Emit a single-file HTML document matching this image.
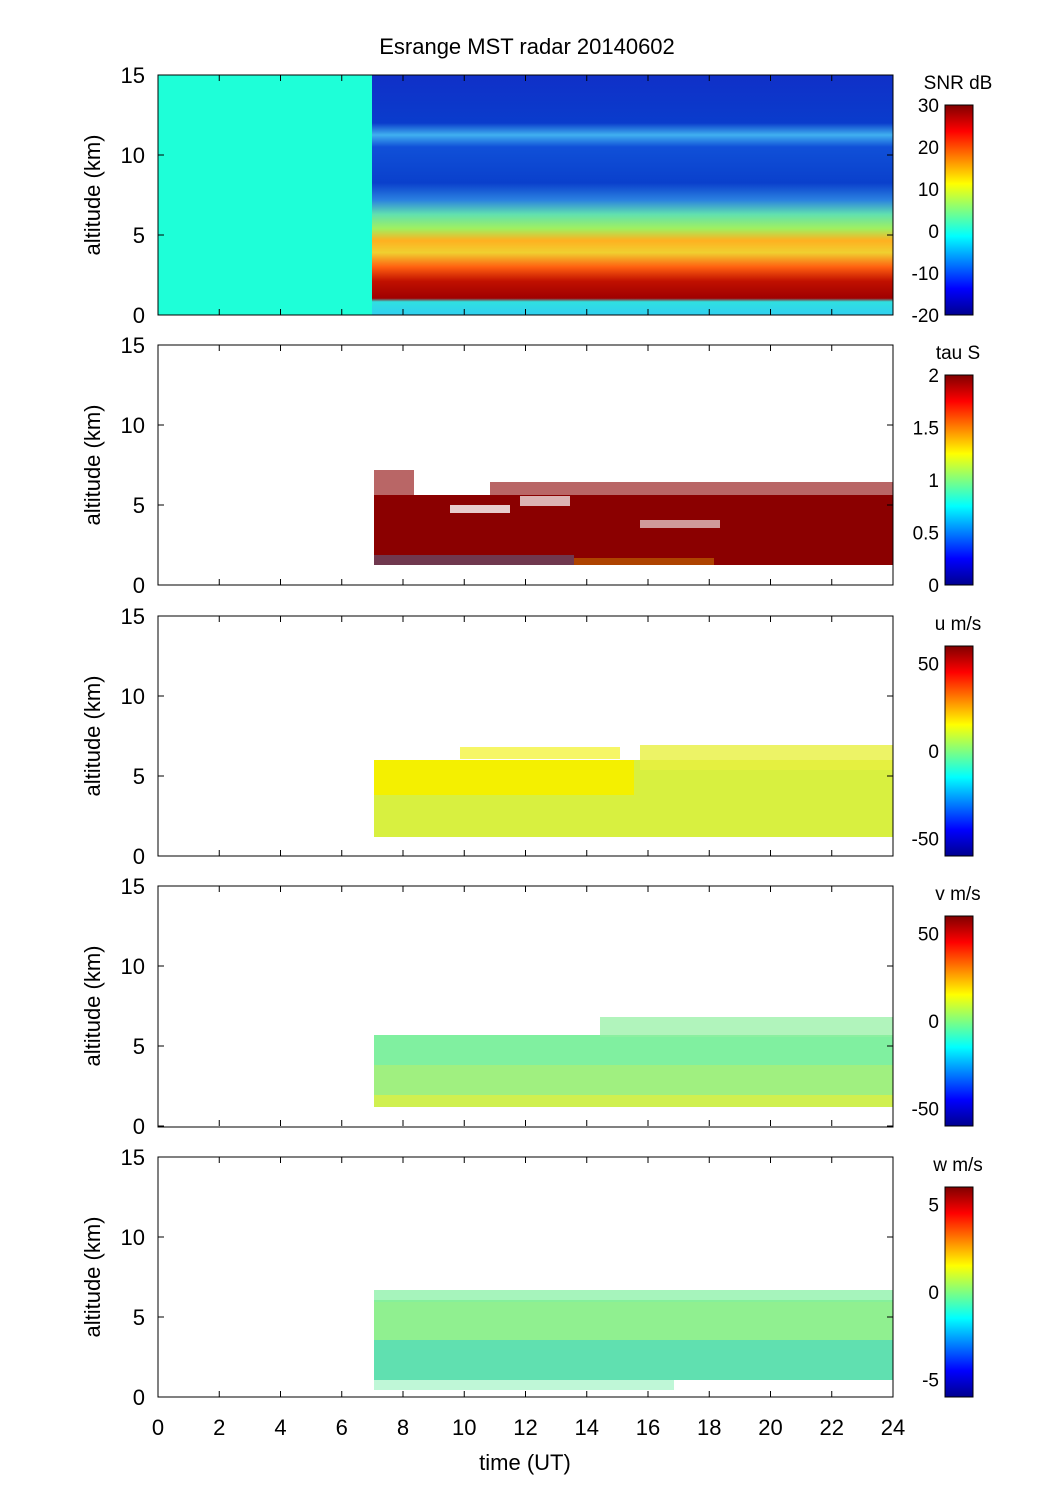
<!DOCTYPE html>
<html><head><meta charset="utf-8"><style>
body{margin:0;background:#fff;}
svg{display:block;font-family:"Liberation Sans",sans-serif;}
</style></head><body>
<svg width="1051" height="1502" viewBox="0 0 1051 1502" xmlns="http://www.w3.org/2000/svg">
<defs>
<linearGradient id="jet" x1="0" y1="1" x2="0" y2="0">
<stop offset="0" stop-color="#00008f"/><stop offset="0.125" stop-color="#0000ff"/>
<stop offset="0.375" stop-color="#00ffff"/><stop offset="0.625" stop-color="#ffff00"/>
<stop offset="0.875" stop-color="#ff0000"/><stop offset="1" stop-color="#800000"/>
</linearGradient>
<linearGradient id="snr" x1="0" y1="0" x2="0" y2="1">
<stop offset="0" stop-color="#1030c8"/><stop offset="0.2" stop-color="#0a3ccc"/>
<stop offset="0.25" stop-color="#40b0f0"/><stop offset="0.3" stop-color="#1050d8"/>
<stop offset="0.45" stop-color="#0a40cc"/><stop offset="0.52" stop-color="#2a80e0"/>
<stop offset="0.58" stop-color="#60e0b0"/><stop offset="0.64" stop-color="#a0f060"/>
<stop offset="0.69" stop-color="#ffb020"/><stop offset="0.74" stop-color="#f0d030"/>
<stop offset="0.8" stop-color="#ff6010"/><stop offset="0.86" stop-color="#c01000"/>
<stop offset="0.93" stop-color="#a00000"/><stop offset="0.945" stop-color="#30e0e0"/>
<stop offset="1" stop-color="#30d0f0"/>
</linearGradient>
</defs>
<text x="527" y="54" font-size="22" text-anchor="middle">Esrange MST radar 20140602</text>

<rect x="158" y="75" width="214" height="240" fill="#1effd8"/>
<rect x="372" y="75" width="521" height="240" fill="url(#snr)"/>

<rect x="374" y="495" width="519" height="70" fill="#8b0000"/>
<rect x="374" y="470" width="40" height="25" fill="#8b0000" opacity="0.6"/>
<rect x="480" y="482" width="413" height="14" fill="#8b0000" opacity="0.6"/>
<rect x="430" y="480" width="60" height="15" fill="#fff"/>
<rect x="450" y="505" width="60" height="8" fill="#fff" opacity="0.8"/>
<rect x="520" y="496" width="50" height="10" fill="#fff" opacity="0.7"/>
<rect x="640" y="520" width="80" height="8" fill="#fff" opacity="0.6"/>
<rect x="374" y="555" width="200" height="10" fill="#40a0e0" opacity="0.35"/>
<rect x="574" y="558" width="140" height="7" fill="#f0c000" opacity="0.35"/>

<rect x="374" y="760" width="519" height="77" fill="#d8f040"/>
<rect x="374" y="760" width="260" height="35" fill="#f4f000"/>
<rect x="640" y="745" width="253" height="25" fill="#e8f040" opacity="0.8"/>
<rect x="460" y="747" width="160" height="12" fill="#f0f000" opacity="0.6"/>

<rect x="374" y="1035" width="519" height="72" fill="#a0f080"/>
<rect x="374" y="1035" width="519" height="30" fill="#80f0a0"/>
<rect x="600" y="1017" width="293" height="20" fill="#90f0a0" opacity="0.7"/>
<rect x="374" y="1095" width="519" height="12" fill="#d0f050"/>

<rect x="374" y="1300" width="519" height="80" fill="#90f090"/>
<rect x="374" y="1340" width="519" height="40" fill="#60e0b0"/>
<rect x="374" y="1290" width="519" height="12" fill="#80f0a0" opacity="0.7"/>
<rect x="374" y="1380" width="300" height="10" fill="#80f0b0" opacity="0.5"/>

<g fill="none" stroke="#000" stroke-width="1">
<rect x="158" y="75" width="735" height="240"/>
<rect x="158" y="345" width="735" height="240"/>
<rect x="158" y="616" width="735" height="240"/>
<rect x="158" y="886" width="735" height="241"/>
<rect x="158" y="1157" width="735" height="240"/>
</g>
<script>
(function(){
var ns="http://www.w3.org/2000/svg",svg=document.querySelector('svg');
function el(t,a,txt){var e=document.createElementNS(ns,t);for(var k in a)e.setAttribute(k,a[k]);if(txt!=null)e.textContent=txt;svg.appendChild(e);return e;}
var tops=[75,345,616,886,1157];
tops.forEach(function(t,i){
 var b=t+240;
 for(var h=0;h<=24;h+=2){var x=158+h*735/24;
  el('line',{x1:x,y1:b,x2:x,y2:b-6,stroke:'#000'});el('line',{x1:x,y1:t,x2:x,y2:t+6,stroke:'#000'});}
 for(var a=0;a<=15;a+=5){var y=b-a*16;
  el('line',{x1:158,y1:y,x2:164,y2:y,stroke:'#000'});el('line',{x1:893,y1:y,x2:887,y2:y,stroke:'#000'});
  el('text',{x:145,y:y+8,'font-size':22,'text-anchor':'end'},String(a));}
 el('text',{x:100,y:t+120,'font-size':22,'text-anchor':'middle',transform:'rotate(-90 100 '+(t+120)+')'},'altitude (km)');
 var cy=t+30;
 el('rect',{x:945,y:cy,width:28,height:210,fill:'url(#jet)',stroke:'#000'});
});
var labs=[['SNR dB',[30,20,10,0,-10,-20],30,-20],['tau S',[2,1.5,1,0.5,0],2,0],['u m/s',[50,0,-50],60,-60],['v m/s',[50,0,-50],60,-60],['w m/s',[5,0,-5],6,-6]];
labs.forEach(function(L,i){var cy=tops[i]+30;
 el('text',{x:958,y:tops[i]+14,'font-size':19,'text-anchor':'middle'},L[0]);
 L[1].forEach(function(v){var y=cy+(L[2]-v)/(L[2]-L[3])*210;
  el('text',{x:939,y:y+7,'font-size':19,'text-anchor':'end'},String(v));});
});
for(var h=0;h<=24;h+=2){el('text',{x:158+h*735/24,y:1435,'font-size':22,'text-anchor':'middle'},String(h));}
el('text',{x:525,y:1470,'font-size':22,'text-anchor':'middle'},'time (UT)');
})();
</script>
</svg>
</body></html>
